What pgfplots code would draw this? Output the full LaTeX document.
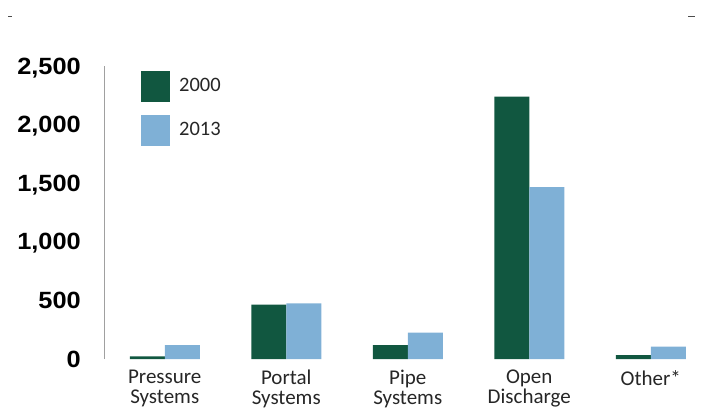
\documentclass[border=0pt]{standalone}
\usepackage{fontspec}
\setmainfont{Carlito}
\newfontfamily\tickfont{Liberation Sans}[FakeStretch=1.08]
\usepackage{pgfplots}
\pgfplotsset{compat=1.18}

\definecolor{darkgreen}{RGB}{17,87,64}
\definecolor{lightblue}{RGB}{127,176,214}
\definecolor{axisgray}{RGB}{160,160,160}

\begin{document}
\begin{tikzpicture}
\useasboundingbox (0,0) rectangle (701pt,408pt);
% small marks at the top corners
\draw[black!70, line width=0.8pt] (8pt,392pt) -- (12pt,392pt);
\draw[black!70, line width=0.8pt] (688pt,392pt) -- (695pt,392pt);
\begin{axis}[
  at={(104pt,49pt)}, anchor=south west,
  scale only axis, width=607.5pt, height=293pt,
  ybar=0pt, bar width=35pt,
  xmin=-0.5, xmax=4.5,
  ymin=0, ymax=2521,
  axis x line=none,
  axis y line*=left,
  y axis line style={-, draw=axisgray, line width=1pt},
  ytick={0,500,...,2500},
  ytick style={draw=none},
  scaled y ticks=false,
  /pgf/number format/.cd, 1000 sep={,}, assume math mode=true, /pgfplots/.cd,
  yticklabel style={font=\fontsize{23.5}{24}\selectfont\tickfont\bfseries,
    inner sep=0pt, anchor=east, xshift=-23pt},
  xtick={0,...,4},
  clip=false,
  legend style={at={([xshift=37pt,yshift=-5pt]axis description cs:0,1)},
    anchor=north west, draw=none, fill=none, inner sep=0pt,
    font=\fontsize{20.5}{20}\selectfont, row sep=13pt,
    nodes={inner sep=0pt, text=black!85}},
  legend cell align=left,
  legend image code/.code={\fill[#1] (0pt,-15.5pt) rectangle (29pt,15.5pt);},
]
\addplot[fill=darkgreen, draw=none] coordinates {(0,23) (1,467) (2,120) (3,2257) (4,34)};
\addplot[fill=lightblue, draw=none] coordinates {(0,120) (1,479) (2,226) (3,1478) (4,106)};
\legend{\hspace{9pt}\raisebox{3pt}{2000}, \hspace{9pt}\raisebox{3pt}{2013}}
\foreach \i/\lab in {0/{Pressure\\Systems}, 1/{Portal\\Systems}, 2/{Pipe\\Systems}, 3/{Open\\Discharge}, 4/{Other*}} {
  \edef\temp{\noexpand\node[anchor=north, align=center, inner sep=0pt,
    font=\noexpand\fontsize{21}{20}\noexpand\selectfont, text=black!85]
    at (axis cs:\i,0) [yshift=-11pt] {\unexpanded\expandafter{\lab}};}
  \temp
}
\end{axis}
\end{tikzpicture}
\end{document}
